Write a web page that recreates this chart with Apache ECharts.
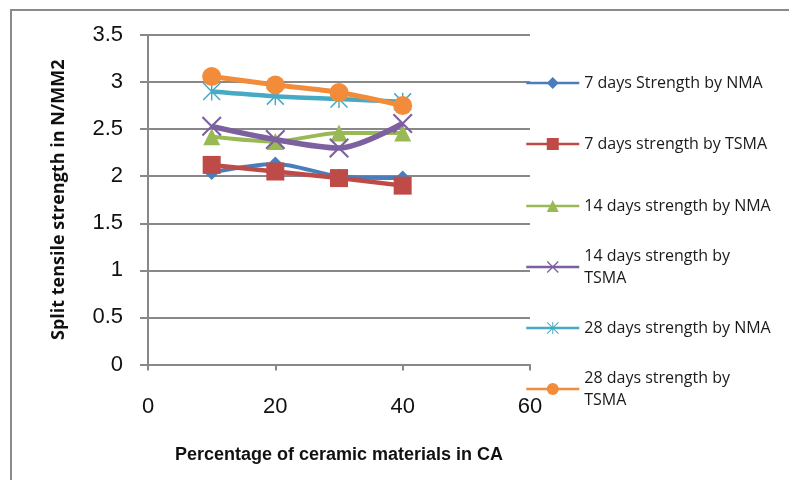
<!DOCTYPE html>
<html>
<head>
<meta charset="utf-8">
<script src="https://cdn.jsdelivr.net/npm/echarts@6/dist/echarts.min.js"></script>
<style>
* { margin: 0; padding: 0; }
body { background: #fff; }
#chart { width: 789px; height: 480px; }
</style>
</head>
<body>
<div id="chart"></div>
<script>
// percentage of ceramic material (x)
var percent = [10, 20, 30, 40];
// split tensile strength, N/mm2
var nma7 = [2.04, 2.13, 2.0, 1.98];
var tsma7 = [2.12, 2.05, 1.98, 1.9];
var nma14 = [2.42, 2.37, 2.46, 2.46];
var tsma14 = [2.53, 2.39, 2.3, 2.56];
var nma28 = [2.9, 2.85, 2.82, 2.79];
var tsma28 = [3.06, 2.97, 2.89, 2.75];
var names = ['7 days Strength by NMA', '7 days strength by TSMA', '14 days strength by NMA',
  '14 days strength by\nTSMA', '28 days strength by NMA', '28 days strength by\nTSMA'];

var crossPath = 'path://M0,1.5L1.5,0L20,18.5L18.5,20ZM18.5,0L20,1.5L1.5,20L0,18.5Z';
var starPath = 'path://M0,1.2L1.2,0L20,18.8L18.8,20ZM18.8,0L20,1.2L1.2,20L0,18.8ZM9.2,0L10.8,0L10.8,20L9.2,20Z';

var colors = ['#4A7EBB', '#BE4B48', '#98B954', '#7D60A0', '#46AAC5', '#F28C3A'];
var symbols = ['diamond', 'rect', 'triangle', crossPath, starPath, 'circle'];
var sizes = [15, 18, 17, 20, 18, 19];
var widths = [4, 4.5, 4, 5.5, 4.5, 5];
var allData = [nma7, tsma7, nma14, tsma14, nma28, tsma28];
var legendY = [83, 144, 206, 267, 328, 389];

var chart = echarts.init(document.getElementById('chart'));
var series = [], legends = [];
for (var i = 0; i < names.length; i++) {
  series.push({
    name: names[i],
    type: 'line',
    smooth: 0.3,
    data: percent.map(function (p, j) { return [p, allData[i][j]]; }),
    symbol: symbols[i],
    symbolSize: sizes[i],
    color: colors[i],
    lineStyle: { width: widths[i], color: colors[i] },
    itemStyle: { color: colors[i] },
    z: 2 + i
  });
  var twoLine = names[i].indexOf('\n') >= 0;
  legends.push({
    data: [names[i]],
    left: 525,
    top: twoLine ? legendY[i] - 33 : legendY[i] - 11,
    padding: 0,
    itemWidth: 53,
    itemHeight: 15,
    itemGap: 0,
    lineStyle: { width: 2.5 },
    textStyle: {
      fontFamily: 'Open Sans',
      fontSize: 16,
      color: '#1a1a1a',
      lineHeight: 22,
      padding: twoLine ? [22, 0, 0, 0] : 0
    }
  });
}

chart.setOption({
  animation: false,
  graphic: [{
    type: 'rect',
    shape: { x: 11, y: 10, width: 800, height: 520 },
    style: { fill: 'none', stroke: '#8a8a8a', lineWidth: 2 },
    silent: true
  }],
  legend: legends,
  grid: { left: 148, right: 259, top: 35, bottom: 115.5 },
  xAxis: {
    type: 'value',
    min: 0, max: 60, interval: 20,
    name: 'Percentage of ceramic materials in CA',
    nameLocation: 'middle',
    nameGap: 82,
    nameTextStyle: { fontFamily: 'Liberation Sans', fontWeight: 'bold', fontSize: 18, color: '#111' },
    axisLine: { lineStyle: { color: '#888', width: 2 } },
    axisTick: { length: 6, lineStyle: { color: '#888', width: 2 } },
    axisLabel: { fontFamily: 'Liberation Sans', fontSize: 22, color: '#111', margin: 31 },
    splitLine: { show: false }
  },
  yAxis: {
    type: 'value',
    min: 0, max: 3.5, interval: 0.5,
    name: 'Split tensile strength in N/MM2',
    nameLocation: 'middle',
    nameGap: 80,
    nameRotate: 90,
    nameTextStyle: { fontFamily: 'Open Sans', fontWeight: 'bold', fontSize: 18, color: '#111' },
    axisLine: { show: true, lineStyle: { color: '#888', width: 2 } },
    axisTick: { show: true, length: 8, lineStyle: { color: '#888', width: 2 } },
    axisLabel: { fontFamily: 'Liberation Sans', fontSize: 22, color: '#111', margin: 25 },
    splitLine: { lineStyle: { color: '#888', width: 2 } }
  },
  series: series
});
</script>
</body>
</html>
